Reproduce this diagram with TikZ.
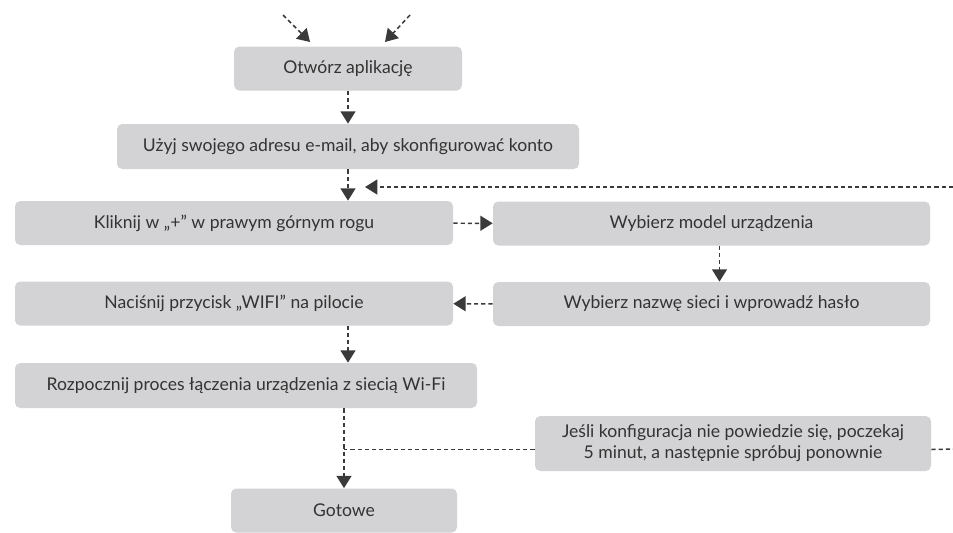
\documentclass[tikz,border=0pt]{standalone}
\usepackage{fontspec}
\setmainfont{Lato}
\usepackage{tikz}
\usetikzlibrary{arrows.meta,positioning,calc}

\definecolor{boxgray}{RGB}{211,211,213}
\definecolor{textgray}{RGB}{51,51,51}
\definecolor{arrowgray}{RGB}{58,58,58}

\begin{document}
\begin{tikzpicture}[x=0.02cm, y=-0.02cm,
  every node/.style={font=\fontsize{10}{12}\selectfont, text=textgray},
  krok/.style={fill=boxgray, rounded corners=3pt, inner sep=0pt, minimum height=44*0.02cm},
  linia/.style={draw=arrowgray, line width=0.85pt, dash pattern=on 2.4pt off 1.7pt},
  strzalka/.style={linia, -{Triangle[width=8.5pt,length=7pt]}}]
\useasboundingbox (0,0) rectangle (953,532);

% Steps of the set-up, left column, right column and the note
\node[krok, minimum width=228*0.02cm] (otworz) at (348,68.5) {Otwórz aplikację};
\node[krok, minimum width=462*0.02cm, minimum height=45*0.02cm] (uzyj) at (348,146.5)
  {Użyj swojego adresu e-mail, aby skonfigurować konto};
\node[krok, minimum width=438*0.02cm] (klik) at (234,223) {Kliknij w „+” w prawym górnym rogu};
\node[krok, minimum width=437*0.02cm] (model) at (711.5,223.5) {Wybierz model urządzenia};
\node[krok, minimum width=437*0.02cm] (nazwa) at (711.5,304) {Wybierz nazwę sieci i wprowadź hasło};
\node[krok, minimum width=438*0.02cm] (nacisnij) at (234,303.5) {Naciśnij przycisk „WIFI” na pilocie};
\node[krok, minimum width=462*0.02cm, minimum height=45*0.02cm] (rozp) at (246,385.5)
  {Rozpocznij proces łączenia urządzenia z siecią Wi-Fi};
\node[krok, minimum width=396*0.02cm, minimum height=55*0.02cm, align=center] (jesli) at (733,443.5)
  {Jeśli konfiguracja nie powiedzie się, poczekaj\\5 minut, a następnie spróbuj ponownie};
\node[krok, minimum width=226*0.02cm] (gotowe) at (344,510.5) {Gotowe};

% Loose ends of the connectors
\coordinate (zr1) at (283,15);
\coordinate (cel1) at (310,42);
\coordinate (zr2) at (410,15);
\coordinate (cel2) at (385,42);
\coordinate (powrot) at (953,187);
\coordinate (wejscie) at (365,187);
\coordinate (koniec) at (953,449);

% Connectors
\draw[strzalka] (zr1) -- (cel1);
\draw[strzalka] (zr2) -- (cel2);
\draw[strzalka] (otworz) -- (uzyj);
\draw[strzalka] (uzyj) -- (klik.north -| uzyj.south);
\draw[strzalka] (powrot) -- (wejscie);
\draw[strzalka] (klik) -- (model);
\draw[strzalka] ([xshift=8*0.02cm]model.south) -- ([xshift=8*0.02cm]nazwa.north);
\draw[strzalka] (nazwa) -- (nacisnij);
\draw[strzalka] (nacisnij.south -| otworz.south) -- (rozp.north -| otworz.south);
\draw[strzalka] (rozp.south -| gotowe.north) -- (gotowe);
\draw[linia] ([yshift=-6*0.02cm]jesli.west) -- ([yshift=-6*0.02cm]jesli.west -| gotowe.north);
\draw[linia] ([yshift=-6*0.02cm]jesli.east) -- (koniec);
\end{tikzpicture}
\end{document}
